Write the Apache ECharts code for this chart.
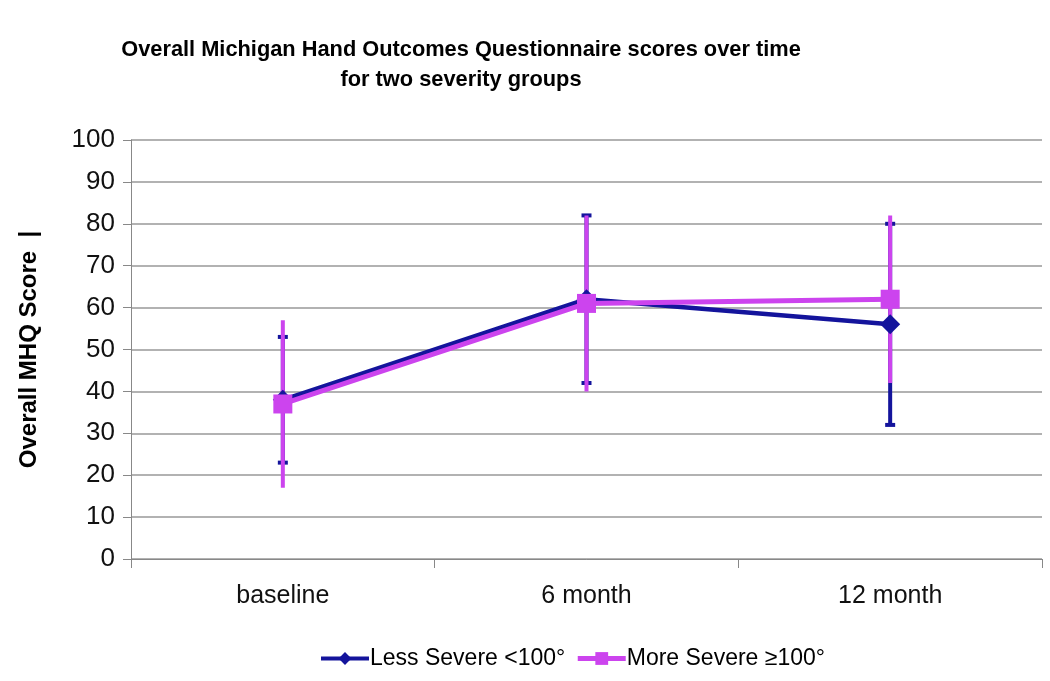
<!DOCTYPE html>
<html><head><meta charset="utf-8">
<script src="https://cdn.jsdelivr.net/npm/echarts@6/dist/echarts.min.js"></script>
<style>html,body{margin:0;padding:0;background:#fff}#c{width:1050px;height:681px}</style>
</head><body><div id="c"></div>
<script>
const categories = ['baseline', '6 month', '12 month'];
const lessMean = [38, 62, 56];
const lessLow = [23, 42, 32];
const lessHigh = [53, 82, 80];
const moreMean = [37, 61, 62];
const moreLow = [17, 40, 42];
const moreHigh = [57, 82, 82];
const yTicks = [0, 10, 20, 30, 40, 50, 60, 70, 80, 90, 100];

const BLUE = '#14149c';
const PINK = '#cc44ee';

function errData(low, high) { return categories.map((c, i) => [i, low[i], high[i]]); }
function errRender(color, cap) {
  return function (params, api) {
    const x = api.value(0);
    const lo = api.coord([x, api.value(1)]);
    const hi = api.coord([x, api.value(2)]);
    const children = [{
      type: 'line', shape: { x1: lo[0], y1: lo[1], x2: hi[0], y2: hi[1] },
      style: { stroke: color, lineWidth: 4 }
    }];
    if (cap) {
      [lo, hi].forEach(p => children.push({
        type: 'line', shape: { x1: p[0] - 5, y1: p[1], x2: p[0] + 5, y2: p[1] },
        style: { stroke: color, lineWidth: 4 }
      }));
    }
    return { type: 'group', children };
  };
}

const chart = echarts.init(document.getElementById('c'));
chart.setOption({
  animation: false,
  title: {
    text: 'Overall Michigan Hand Outcomes Questionnaire scores over time\nfor two severity groups',
    left: 456, top: 30, textAlign: 'center',
    textStyle: { fontFamily: 'Liberation Sans', fontSize: 21.8, fontWeight: 'bold', color: '#000', lineHeight: 30 }
  },
  legend: {
    bottom: 6, left: 314,
    itemWidth: 48, itemHeight: 16, itemGap: 10,
    textStyle: { fontFamily: 'Liberation Sans', fontSize: 23, color: '#000', padding: [0, 0, 0, -4] },
    data: [
      { name: 'Less Severe <100°', lineStyle: { width: 4 } },
      { name: 'More Severe ≥100°', lineStyle: { width: 5 } }
    ]
  },
  grid: { left: 131, right: 8, top: 140, bottom: 122 },
  xAxis: {
    type: 'category', data: categories, boundaryGap: true,
    axisLine: { lineStyle: { color: '#888', width: 1 } },
    axisTick: { show: true, length: 9, lineStyle: { color: '#888' } },
    axisLabel: { fontFamily: 'Liberation Sans', fontSize: 25, color: '#111', margin: 25 },
    splitLine: { show: false }
  },
  yAxis: {
    type: 'value', min: 0, max: 100, interval: 10,
    name: 'Overall MHQ Score  |', nameLocation: 'middle', nameGap: 90,
    nameTextStyle: { fontFamily: 'Liberation Sans', fontSize: 24, fontWeight: 'bold', color: '#000' },
    axisLine: { show: true, lineStyle: { color: '#888', width: 1 } },
    axisTick: { show: true, length: 8, lineStyle: { color: '#888' } },
    axisLabel: { fontFamily: 'Liberation Sans', fontSize: 26, color: '#111', margin: 16,
      formatter: v => yTicks.includes(v) ? String(v) : '' },
    splitLine: { lineStyle: { color: '#999', width: 1.5 } }
  },
  series: [
    { type: 'custom', name: 'errLess', data: errData(lessLow, lessHigh), renderItem: errRender(BLUE, true), z: 1, silent: true },
    { type: 'custom', name: 'errMore', data: errData(moreLow, moreHigh), renderItem: errRender(PINK, false), z: 2, silent: true },
    { type: 'line', name: 'Less Severe <100°', data: lessMean, z: 3,
      symbol: 'diamond', symbolSize: 20,
      lineStyle: { color: BLUE, width: 4.5 }, itemStyle: { color: BLUE } },
    { type: 'line', name: 'More Severe ≥100°', data: moreMean, z: 4,
      symbol: 'rect', symbolSize: 19,
      lineStyle: { color: PINK, width: 5 }, itemStyle: { color: PINK } }
  ]
});
</script></body></html>
